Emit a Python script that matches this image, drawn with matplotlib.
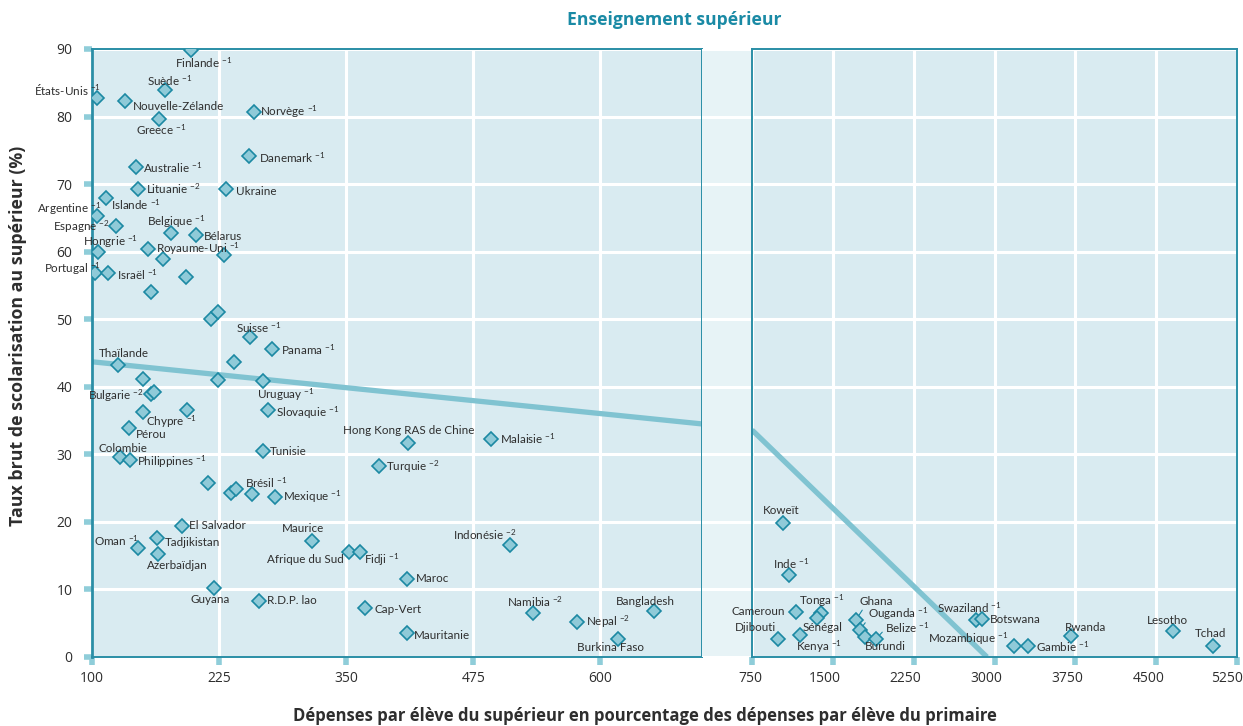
import matplotlib
matplotlib.use('Agg')
import matplotlib.pyplot as plt
from matplotlib.transforms import ScaledTranslation

plt.rcParams['font.family'] = ['Lato', 'DejaVu Sans']
plt.rcParams['mathtext.fontset'] = 'custom'
plt.rcParams['mathtext.rm'] = 'Lato'
plt.rcParams['mathtext.it'] = 'Lato:italic'
plt.rcParams['mathtext.bf'] = 'Lato:bold'

# ---------------- data ----------------
left_names = ['Finlande', 'Suède', 'États-Unis', 'Nouvelle-Zélande', 'Greece', 'Norvège',
              'Danemark', 'Australie', 'Lituanie', 'Ukraine', 'Islande', 'Argentine',
              'Espagne', 'Belgique', 'Bélarus', 'Hongrie', 'Royaume-Uni', '', '',
              'Portugal', 'Israël', '', '', '', '', 'Suisse', 'Panama', 'Thaïlande', '',
              '', '', 'Uruguay', 'Bulgarie', '', '', 'Chypre', 'Slovaquie', 'Pérou',
              'Tunisie', 'Colombie', 'Philippines', '', '', 'Brésil', '', 'Mexique',
              'El Salvador', 'Tadjikistan', 'Oman', 'Azerbaïdjan', 'Maurice',
              'Afrique du Sud', 'Fidji', 'Maroc', 'Guyana', 'R.D.P. lao', 'Cap-Vert',
              'Mauritanie', 'Hong Kong RAS de Chine', 'Malaisie', 'Turquie', 'Indonésie',
              'Namibia', 'Nepal', 'Bangladesh', 'Burkina Faso']
left_x = [197, 172, 105, 132, 166, 259, 254, 143, 145, 232, 114, 105, 124, 178, 202, 106,
          155, 170, 230, 103, 116, 192, 158, 217, 224, 255, 277, 126, 240, 150, 224, 268,
          158, 161, 193, 150, 273, 136, 268, 128, 137, 214, 237, 242, 257, 280, 189, 164,
          145, 165, 316, 353, 364, 410, 220, 264, 369, 410, 411, 492, 382, 511, 534, 577,
          653, 617]
left_y = [89.8, 84.0, 82.7, 82.3, 79.7, 80.7, 74.2, 72.5, 69.3, 69.3, 68.0, 65.3, 63.8,
          62.8, 62.4, 59.9, 60.4, 58.9, 59.5, 56.9, 56.8, 56.3, 54.0, 50.0, 51.0, 47.3,
          45.6, 43.2, 43.6, 41.1, 41.0, 40.8, 38.9, 39.2, 36.6, 36.2, 36.5, 33.9, 30.5,
          29.6, 29.1, 25.7, 24.3, 24.8, 24.1, 23.7, 19.4, 17.6, 16.1, 15.3, 17.2, 15.6,
          15.6, 11.6, 10.2, 8.3, 7.3, 3.5, 31.7, 32.3, 28.3, 16.6, 6.5, 5.2, 6.8, 2.7]
left_sup = ['-1', '-1', '-1', '', '-1', '-1', '-1', '-1', '-2', '', '-1', '-1', '-2', '-1',
            '', '-1', '-1', '', '', '-1', '-1', '', '', '', '', '-1', '-1', '', '', '', '',
            '-1', '-2', '', '', '-1', '-1', '', '', '', '-1', '', '', '-1', '', '-1', '',
            '', '-1', '', '', '', '-1', '', '', '', '', '', '', '-1', '-2', '-2', '-2',
            '-2', '', '']

right_names = ['Koweït', 'Inde', 'Cameroun', 'Tonga', 'Sénégal', 'Djibouti', 'Kenya',
               'Ghana', 'Ouganda', 'Burundi', 'Belize', 'Swaziland', 'Botswana',
               'Mozambique', 'Gambie', 'Rwanda', 'Lesotho', 'Tchad']
right_x = [1038, 1090, 1158, 1388, 1356, 994, 1195, 1715, 1752, 1799, 1901, 2829, 2882,
           3185, 3315, 3708, 4658, 5026]
right_y = [19.9, 12.1, 6.6, 6.5, 5.7, 2.6, 3.3, 5.5, 4.0, 3.0, 2.7, 5.5, 5.6, 1.6, 1.6,
           3.1, 3.8, 1.6]
right_sup = ['', '-1', '', '-1', '', '', '-1', '', '-1', '', '-1', '-1', '', '-1', '-1',
             '', '', '']

# fitted trend lines
trend_left_x = [100, 700]
trend_left_y = [43.7, 34.5]
trend_right_x = [750, 2930]
trend_right_y = [33.6, 0.0]

left_xticks = [100, 225, 350, 475, 600]
right_xticks = [750, 1500, 2250, 3000, 3750, 4500, 5250]
yticks = [0, 10, 20, 30, 40, 50, 60, 70, 80, 90]

title = 'Enseignement supérieur'
xlabel = 'Dépenses par élève du supérieur en pourcentage des dépenses par élève du primaire'
ylabel = 'Taux brut de scolarisation au supérieur (%)'

# ---------------- label placement (pixels: dx, dy up, ha) ----------------
offs = {
    'Finlande': (-16, -12, 'left'), 'Suède': (-18, 9, 'left'), 'États-Unis': (4, 9, 'right'),
    'Nouvelle-Zélande': (8, -5, 'left'), 'Greece': (-23, -11, 'left'),
    'Norvège': (6, 0, 'left'), 'Danemark': (10, -2, 'left'), 'Australie': (7, 0, 'left'),
    'Lituanie': (8, 0, 'left'), 'Ukraine': (10, -3, 'left'), 'Islande': (5, -7, 'left'),
    'Argentine': (4, 7, 'right'), 'Espagne': (-7, -1, 'right'), 'Belgique': (-24, 11, 'left'),
    'Bélarus': (8, -1, 'left'), 'Hongrie': (-15, 11, 'left'), 'Royaume-Uni': (8, 0, 'left'),
    'Portugal': (6, 4, 'right'), 'Israël': (9, -1, 'left'), 'Suisse': (-14, 10, 'left'),
    'Panama': (9, -1, 'left'), 'Thaïlande': (-20, 12, 'left'), 'Uruguay': (-6, -13, 'left'),
    'Bulgarie': (-7, -1, 'right'), 'Chypre': (3, -9, 'left'), 'Slovaquie': (8, -2, 'left'),
    'Pérou': (7, -7, 'left'), 'Tunisie': (7, -1, 'left'), 'Colombie': (-22, 9, 'left'),
    'Philippines': (7, -1, 'left'), 'Brésil': (9, 7, 'left'), 'Mexique': (8, 0, 'left'),
    'El Salvador': (7, 0, 'left'), 'Tadjikistan': (8, -4, 'left'), 'Oman': (1, 8, 'right'),
    'Azerbaïdjan': (-11, -12, 'left'), 'Maurice': (-30, 12, 'left'),
    'Afrique du Sud': (-5, -8, 'right'), 'Fidji': (4, -8, 'left'), 'Maroc': (9, 0, 'left'),
    'Guyana': (-24, -11, 'left'), 'R.D.P. lao': (8, 0, 'left'), 'Cap-Vert': (9, -2, 'left'),
    'Mauritanie': (7, -2, 'left'), 'Hong Kong RAS de Chine': (1, 12, 'center'),
    'Malaisie': (9, 0, 'left'), 'Turquie': (7, -1, 'left'), 'Indonésie': (7, 10, 'right'),
    'Namibia': (-26, 11, 'left'), 'Nepal': (9, 0, 'left'), 'Bangladesh': (-9, 10, 'center'),
    'Burkina Faso': (-7, -9, 'center'),
    'Koweït': (-2, 12, 'center'), 'Inde': (-16, 12, 'left'), 'Cameroun': (-11, 1, 'right'),
    'Tonga': (-22, 12, 'left'), 'Sénégal': (-15, -9, 'left'), 'Djibouti': (-2, 12, 'right'),
    'Kenya': (-4, -12, 'left'), 'Ghana': (3, 18, 'left'), 'Ouganda': (8, 16, 'left'),
    'Burundi': (0, -10, 'left'), 'Belize': (9, 11, 'left'), 'Swaziland': (-39, 12, 'left'),
    'Botswana': (8, 0, 'left'), 'Mozambique': (-6, 7, 'right'), 'Gambie': (8, -1, 'left'),
    'Rwanda': (-6, 9, 'left'), 'Lesotho': (-6, 11, 'center'), 'Tchad': (-2, 13, 'center'),
}
leaders = {'Ghana': (0.15, 0.0), 'Ouganda': (0.0, 0.2), 'Belize': (0.0, 0.4)}

# ---------------- style ----------------
BG = '#d9ebf1'
GAP = '#e7f3f6'
TEAL = '#2a8ea6'
TICKC = '#8fcdd9'
MFACE = '#8fcad8'
MEDGE = '#1c89a3'
TREND = '#80c3d1'
TXT = '#2e2e2e'
W, H = 1243, 726
LFS = 8.4
BOLDFAM = ['Open Sans', 'DejaVu Sans']

fig = plt.figure(figsize=(W / 100, H / 100), dpi=100)
fig.patch.set_facecolor('white')


def frac(x0, x1, ytop, ybot):
    return [x0 / W, 1 - ybot / H, (x1 - x0) / W, (ybot - ytop) / H]


axL = fig.add_axes(frac(92, 702, 49, 657))
axG = fig.add_axes(frac(702, 752, 49, 657))
axR = fig.add_axes(frac(752, 1237, 49, 657))

for ax in (axL, axG, axR):
    ax.set_ylim(0, 90)
    ax.set_yticks(yticks)
    ax.grid(True, color='white', lw=2.2)
    ax.set_axisbelow(True)

axL.set_facecolor(BG)
axR.set_facecolor(BG)
axG.set_facecolor(GAP)
axL.set_xlim(100, 700)
axR.set_xlim(750, 5250)
axL.set_xticks(left_xticks)
axR.set_xticks(right_xticks)
axG.set_xticks([])
axG.tick_params(left=False, labelleft=False)
for s in axG.spines.values():
    s.set_visible(False)
axG.grid(False, axis='x')

for ax in (axL, axR):
    for s in ax.spines.values():
        s.set_color(TEAL)
        s.set_linewidth(1.4)
    ax.tick_params(axis='x', length=6, width=4, color=TICKC, labelsize=10.0,
                   labelcolor=TXT, pad=4)
    for lbl in ax.get_xticklabels():
        lbl.set_family(BOLDFAM)
axL.spines['left'].set_linewidth(2.0)
axL.tick_params(axis='y', length=6, width=4, color=TICKC, labelsize=10.0,
                labelcolor=TXT, pad=8)
for lbl in axL.get_yticklabels():
    lbl.set_family(BOLDFAM)
axR.tick_params(axis='y', left=False, labelleft=False)

# shift right-panel tick labels slightly left like the reference
shifts = [-2, -8, -8, -8, -8, -7, -10]
for sh, lbl in zip(shifts, axR.get_xticklabels()):
    lbl.set_transform(lbl.get_transform() + ScaledTranslation(sh / 100, 0, fig.dpi_scale_trans))

# trend lines
axL.plot(trend_left_x, trend_left_y, color=TREND, lw=3.8, solid_capstyle='butt', zorder=2)
axR.plot(trend_right_x, trend_right_y, color=TREND, lw=3.8, solid_capstyle='butt', zorder=2,
         clip_on=True)


def draw(ax, xs, ys, names, sups):
    ax.plot(xs, ys, ls='none', marker='D', ms=6.8, mfc=MFACE, mec=MEDGE, mew=1.2, zorder=4)
    for x, y, n, s in zip(xs, ys, names, sups):
        if not n:
            continue
        dx, dy, ha = offs[n]
        label = n + (r' $^{\mathrm{' + s + '}}$' if s else '')
        kw = {}
        if n in leaders:
            kw['arrowprops'] = dict(arrowstyle='-', color=MEDGE, lw=0.8, shrinkA=0, shrinkB=4,
                                    relpos=leaders[n])
        ax.annotate(label, (x, y), xytext=(dx, dy), textcoords='offset pixels', ha=ha,
                    va='center', fontsize=LFS, color=TXT, zorder=5, **kw)


draw(axL, left_x, left_y, left_names, left_sup)
draw(axR, right_x, right_y, right_names, right_sup)

fig.text(674 / W, 1 - 20 / H, title, ha='center', va='center', fontsize=12.6,
         fontweight='bold', color='#1a8aa5', family=BOLDFAM)
fig.text(645 / W, 1 - 716 / H, xlabel, ha='center', va='center', fontsize=12.0,
         fontweight='bold', color=TXT, family=BOLDFAM)
fig.text(18 / W, 1 - 336 / H, ylabel, ha='center', va='center', rotation=90, fontsize=12.8,
         fontweight='bold', color=TXT, family=BOLDFAM)

fig.savefig('out.png', dpi=100, facecolor='white')
